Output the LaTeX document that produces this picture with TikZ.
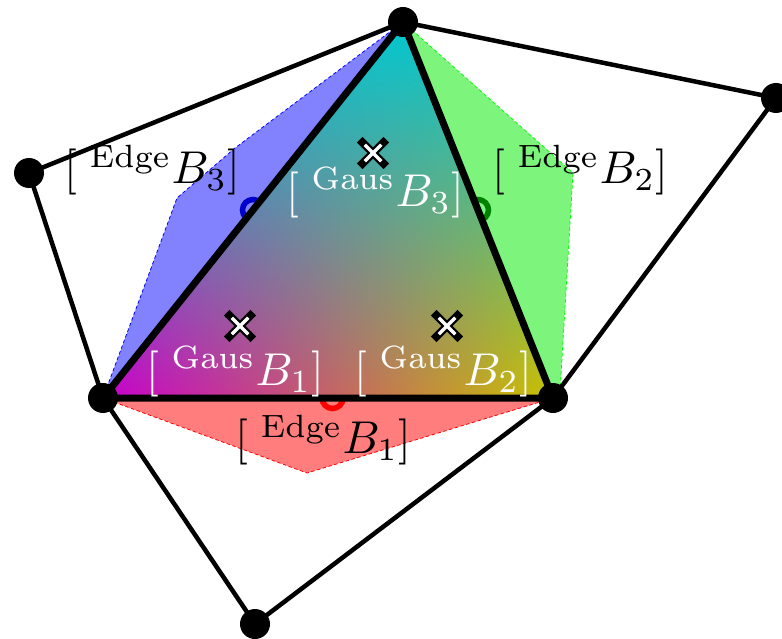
\documentclass[tikz,border=0pt]{standalone}
\usepackage{amsmath,amssymb}
\usepackage{tikz}
\usetikzlibrary{calc,fadings,shapes.misc}
\usepackage{xcolor}

\definecolor{vmag}{RGB}{200,0,205}
\definecolor{vyel}{RGB}{200,195,0}
\definecolor{vcyan}{RGB}{0,200,210}
\definecolor{regred}{RGB}{255,125,125}
\definecolor{regblue}{RGB}{130,130,255}
\definecolor{reggreen}{RGB}{125,245,125}
\definecolor{ringgreen}{RGB}{0,130,0}

\tikzfading[name=fadedown, top color=transparent!0, bottom color=transparent!100]

\begin{document}
\begin{tikzpicture}[x=1pt,y=-1pt,line cap=round,
  mesh/.style={line width=4.5},
  elem/.style={line width=7,line join=round},
  vdot/.style={circle,fill=black,inner sep=0,minimum size=30},
  ring/.style={circle,line width=5.5,inner sep=0,minimum size=21},
  gmark/.style={cross out,draw=black,line width=8,line cap=rect,inner sep=0,minimum size=13},
  gmarkin/.style={cross out,draw=white,line width=3.5,line cap=butt,inner sep=0,minimum size=13},
  lab/.style={inner sep=0,scale=4.6}]
\useasboundingbox (0,0) rectangle (782,639);
\coordinate (T) at (403,22);
\coordinate (L) at (103,398);
\coordinate (R) at (553,398);
\coordinate (FL) at (29,173);
\coordinate (FR) at (776,98);
\coordinate (B) at (255,624);
% neighbour regions
\draw[red,dashed,line width=0.8,fill=regred] (L) -- (307,473) -- (R) -- cycle;
\draw[blue,dashed,line width=0.8,fill=regblue] (T) -- (235,148) -- (177,198) -- (L) -- cycle;
\draw[green,dashed,line width=0.8,fill=reggreen] (T) -- (573,173) -- (560,392) -- (R) -- cycle;
% edge points
\node[ring,draw=red] (e1) at ($(L)!0.51!(R)$) {};
\node[ring,draw=ringgreen] (e2) at ($(R)!0.5!(T)$) {};
\node[ring,draw=blue!80!black] (e3) at ($(T)!0.5!(L)$) {};
% element
\shade[left color=vmag,right color=vyel] (L) -- (T) -- (R) -- cycle;
\fill[vcyan,path fading=fadedown] (L) -- (T) -- (R) -- cycle;
\draw[mesh] (FL) -- (T) -- (FR) -- (R) -- (B) -- (L) -- cycle;
\draw[elem] (L) -- (T) -- (R) -- cycle;
% gauss points
\foreach \n/\p in {g1/{(240,326)},g2/{(447,326)},g3/{(373,153)}}{
  \node[gmark] (\n) at \p {};
  \node[gmarkin] at (\n) {};
}
\node[lab,text=white] (gb1) at (235,372) {$[\;{}^{\mathrm{Gaus}}B_1]$};
\node[lab,text=white] (gb2) at (443,372) {$[\;{}^{\mathrm{Gaus}}B_2]$};
\node[lab,text=white] (gb3) at (375,193) {$[\;{}^{\mathrm{Gaus}}B_3]$};
\node[lab] (eb1) at (323,440) {$[\;{}^{\mathrm{Edge}}B_1]$};
\node[lab] (eb2) at (580,170) {$[\;{}^{\mathrm{Edge}}B_2]$};
\node[lab] (eb3) at (152,170) {$[\;{}^{\mathrm{Edge}}B_3]$};
% nodes
\foreach \v in {T,L,R,FL,FR,B}
  \node[vdot] (\v dot) at (\v) {};
\end{tikzpicture}
\end{document}
